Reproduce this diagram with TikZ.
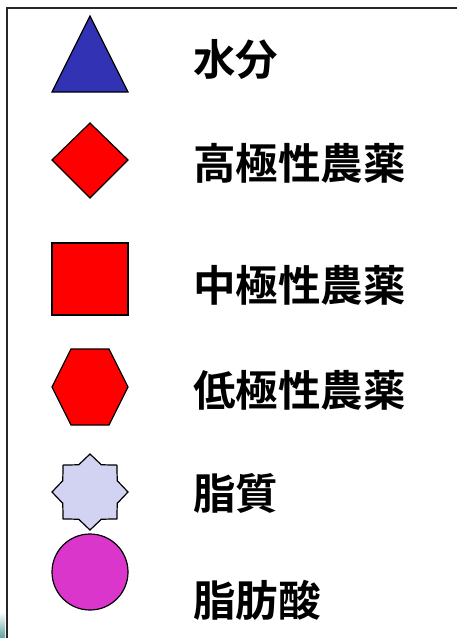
\documentclass[tikz,border=0pt]{standalone}
\usepackage{fontspec}
\newfontfamily\cjk{Noto Sans CJK JP Bold}
\definecolor{triblue}{RGB}{50,50,180}
\definecolor{lipid}{RGB}{210,210,242}
\definecolor{fatty}{RGB}{218,54,204}
\definecolor{tealbg}{RGB}{95,160,160}
\tikzset{
  shp/.style={draw=black, line width=1.2pt, line join=miter},
  lbl/.style={anchor=west, inner sep=0pt, font=\cjk\fontsize{42.5}{42.5}\selectfont},
}
\begin{document}
\begin{tikzpicture}[x=1pt,y=-1pt]
\useasboundingbox (0,0) rectangle (457,638);
% slide remnant
\shade[top color=white, bottom color=tealbg] (0,612) rectangle (5,638);
% frame
\draw[line width=1.6pt, black!85] (7,640) -- (7,8) -- (460,8);
% triangle
\draw[shp, fill=triblue] (90,16) -- (128,92) -- (52,92) -- cycle;
% diamond
\draw[shp, fill=red] (90,123) -- (128,160) -- (90,198) -- (52,160) -- cycle;
% square
\draw[shp, fill=red] (52,243) rectangle (128,315);
% hexagon
\draw[shp, fill=red] (71,349) -- (109,349) -- (128,387) -- (109,425) -- (71,425) -- (52,387) -- cycle;
% star
\draw[shp, fill=lipid] (90,454) -- (101.3,464.75) -- (116.9,465.1) -- (117.25,480.7)
  -- (128,492) -- (117.25,503.3) -- (116.9,518.9) -- (101.3,519.25)
  -- (90,530) -- (78.7,519.25) -- (63.1,518.9) -- (62.75,503.3)
  -- (52,492) -- (62.75,480.7) -- (63.1,465.1) -- (78.7,464.75) -- cycle;
% circle
\draw[shp, fill=fatty] (90,572) circle[radius=38];
% labels
\node[lbl] (t1) at (193,59) {水分};
\node[lbl] (t2) at (193,163) {高極性農薬};
\node[lbl] (t3) at (193,285) {中極性農薬};
\node[lbl] (t4) at (193,390) {低極性農薬};
\node[lbl] (t5) at (193,493) {脂質};
\node[lbl] (t6) at (193,600) {脂肪酸};
\end{tikzpicture}
\end{document}
